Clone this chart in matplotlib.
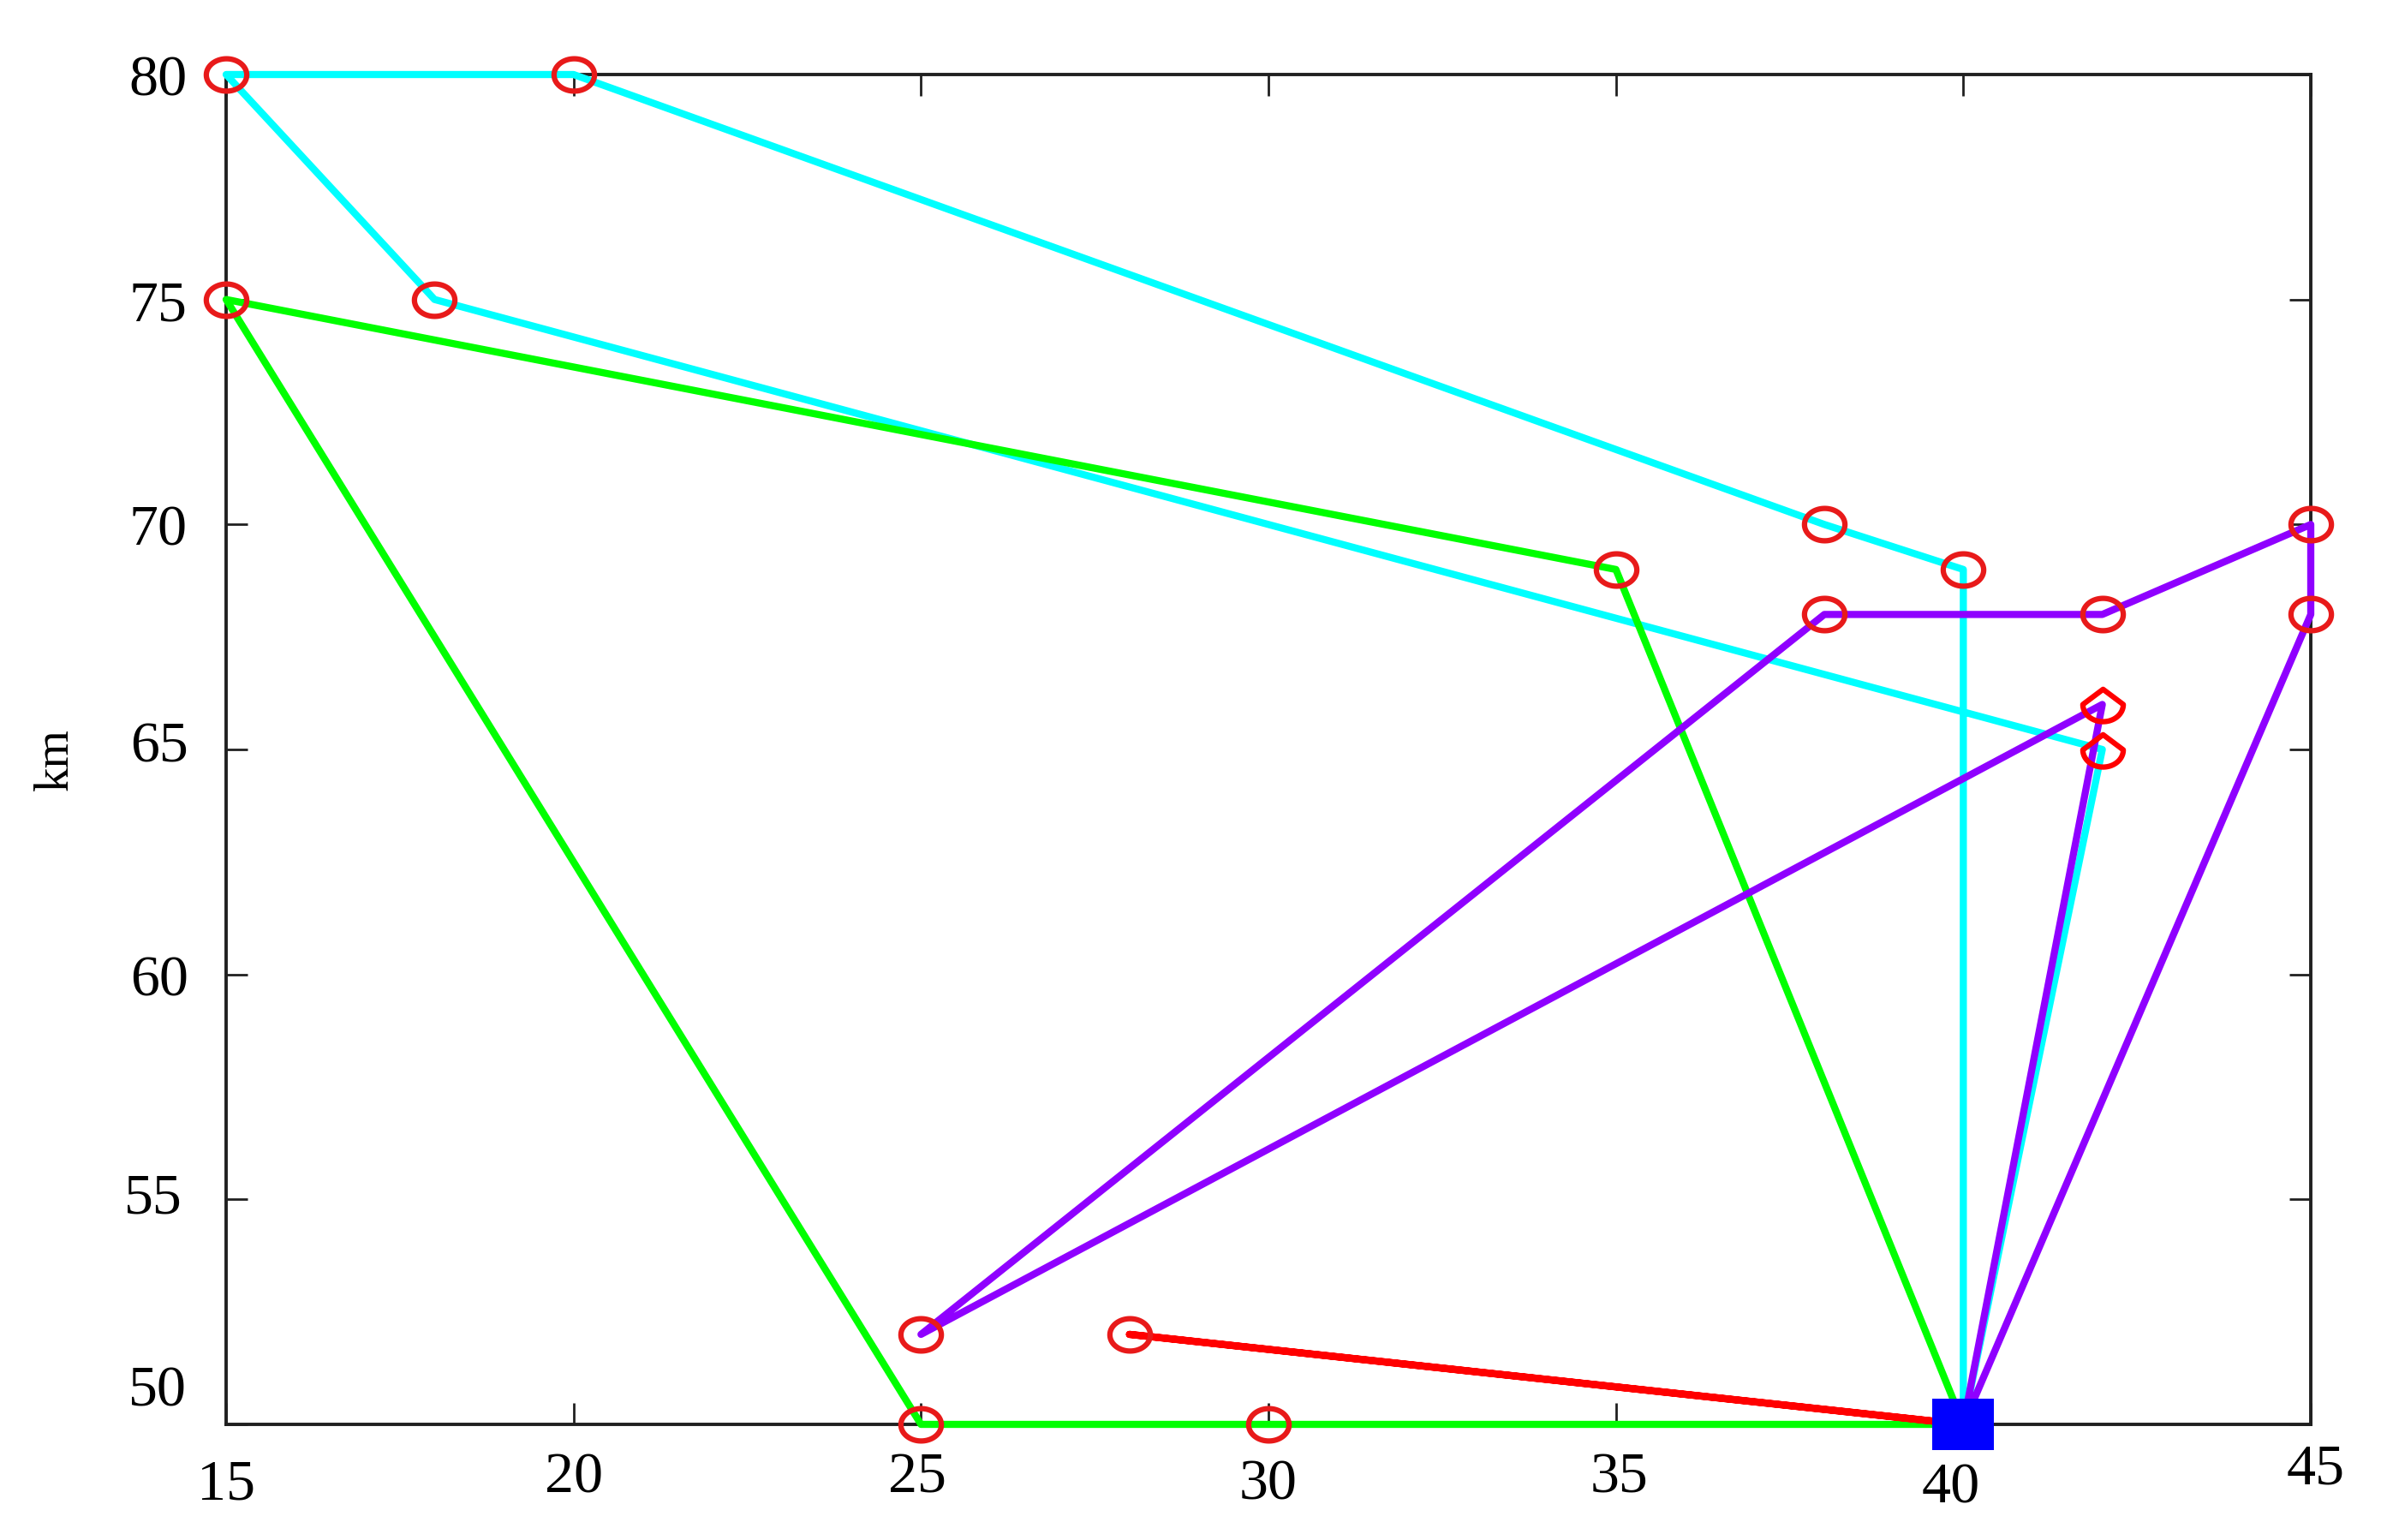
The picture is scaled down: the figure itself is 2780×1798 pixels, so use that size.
import numpy as np
import matplotlib
matplotlib.use("Agg")
import matplotlib.pyplot as plt
from matplotlib.path import Path
from matplotlib.transforms import ScaledTranslation

# ---- data ----
depot = (40, 50)
route_cyan_x = [40, 40, 38, 20, 15, 18, 42, 40]
route_cyan_y = [50, 69, 70, 80, 80, 75, 65, 50]
route_green_x = [40, 35, 15, 25, 30, 40]
route_green_y = [50, 69, 75, 50, 50, 50]
route_red_x = [40, 28, 40]
route_red_y = [50, 52, 50]
route_purple_x = [40, 42, 25, 38, 42, 45, 45, 40]
route_purple_y = [50, 66, 52, 68, 68, 70, 68, 50]

circle_x = [40, 38, 20, 15, 18, 35, 15, 25, 30, 28, 25, 38, 42, 45, 45]
circle_y = [69, 70, 80, 80, 75, 69, 75, 50, 50, 52, 52, 68, 68, 70, 68]
drop_x = [42, 42]
drop_y = [66, 65]

xticks = [15, 20, 25, 30, 35, 40, 45]
yticks = [50, 55, 60, 65, 70, 75, 80]

# ---- markers ----
th = np.linspace(0, 2 * np.pi, 121)
ellipse = Path(np.column_stack([np.cos(th), 0.8 * np.sin(th)]), closed=True)
square = Path([(-1, -0.83), (1, -0.83), (1, 0.83), (-1, 0.83), (-1, -0.83)], closed=True)
# teardrop: pointed top, rounded bottom
tb = np.linspace(np.pi, 2 * np.pi, 61)
bottom = np.column_stack([np.cos(tb), 0.85 * np.sin(tb)])
drop_verts = np.vstack([[[0, 0.75]], bottom, [[0, 0.75]]])
drop = Path(drop_verts, closed=True)

fig = plt.figure(figsize=(27.8, 17.99), dpi=100)
ax = fig.add_axes([264 / 2780, 1 - 1664 / 1799, (2698 - 264) / 2780, (1664 - 88) / 1799])

lw = 6
ax.plot(route_cyan_x, route_cyan_y, color='#00FFFF', lw=lw, clip_on=False, zorder=3)
ax.plot(route_green_x, route_green_y, color='#00FF00', lw=lw, clip_on=False, zorder=3)
ax.plot(route_red_x, route_red_y, color='#FF0000', lw=lw, clip_on=False, zorder=3)
ax.plot(route_purple_x, route_purple_y, color='#8F00FF', lw=lw, clip_on=False, zorder=3)

ax.plot(circle_x, circle_y, ls='none', marker=ellipse, ms=34, mfc='none',
        mec='#E81A1A', mew=4.5, clip_on=False, zorder=4)
ax.plot(drop_x, drop_y, ls='none', marker=drop, ms=34, mfc='none',
        mec='#FF0000', mew=4.5, clip_on=False, zorder=4)
ax.plot([depot[0]], [depot[1]], ls='none', marker=square, ms=52, mfc='#0000FF',
        mec='#0000FF', mew=0, clip_on=False, zorder=5)

ax.set_xlim(15, 45)
ax.set_ylim(50, 80)
ax.set_xticks(xticks)
ax.set_yticks(yticks)
ax.set_xticklabels([str(v) for v in xticks])
ax.set_yticklabels([str(v) for v in yticks])

for s in ax.spines.values():
    s.set_linewidth(2.8)
    s.set_color('#202020')

font = 'Liberation Serif'
ax.tick_params(direction='in', length=18, width=2, color='#202020',
               top=True, right=True, labelsize=49)
ax.tick_params(axis='x', pad=23)
ax.tick_params(axis='y', pad=33)
for lab in ax.get_xticklabels() + ax.get_yticklabels():
    lab.set_fontfamily(font)

ax.set_ylabel('km', fontsize=41, fontfamily=font)
ax.yaxis.set_label_coords((65 - 264) / (2698 - 264), (1664 - 887) / (1664 - 88))
ax.yaxis.label.set_va('center')

# individual tick-label offsets (pixels, +x right, +y up)
x_off = {15: (0, -8), 20: (0, 0), 25: (-4, 0), 30: (0, -8), 35: (4, 0), 40: (-15, -12), 45: (6, 10)}
y_off = {50: (0, 46), 55: (-5, 8), 60: (2, 0), 65: (2, 10), 70: (0, 0), 75: (0, 0), 80: (0, 0)}
for t, v in zip(ax.xaxis.get_major_ticks(), xticks):
    dx, dy = x_off[v]
    t.label1.set_transform(t.label1.get_transform() + ScaledTranslation(dx / 100, dy / 100, fig.dpi_scale_trans))
for t, v in zip(ax.yaxis.get_major_ticks(), yticks):
    dx, dy = y_off[v]
    t.label1.set_transform(t.label1.get_transform() + ScaledTranslation(dx / 100, dy / 100, fig.dpi_scale_trans))

fig.savefig('out.png', dpi=100, facecolor='white')
